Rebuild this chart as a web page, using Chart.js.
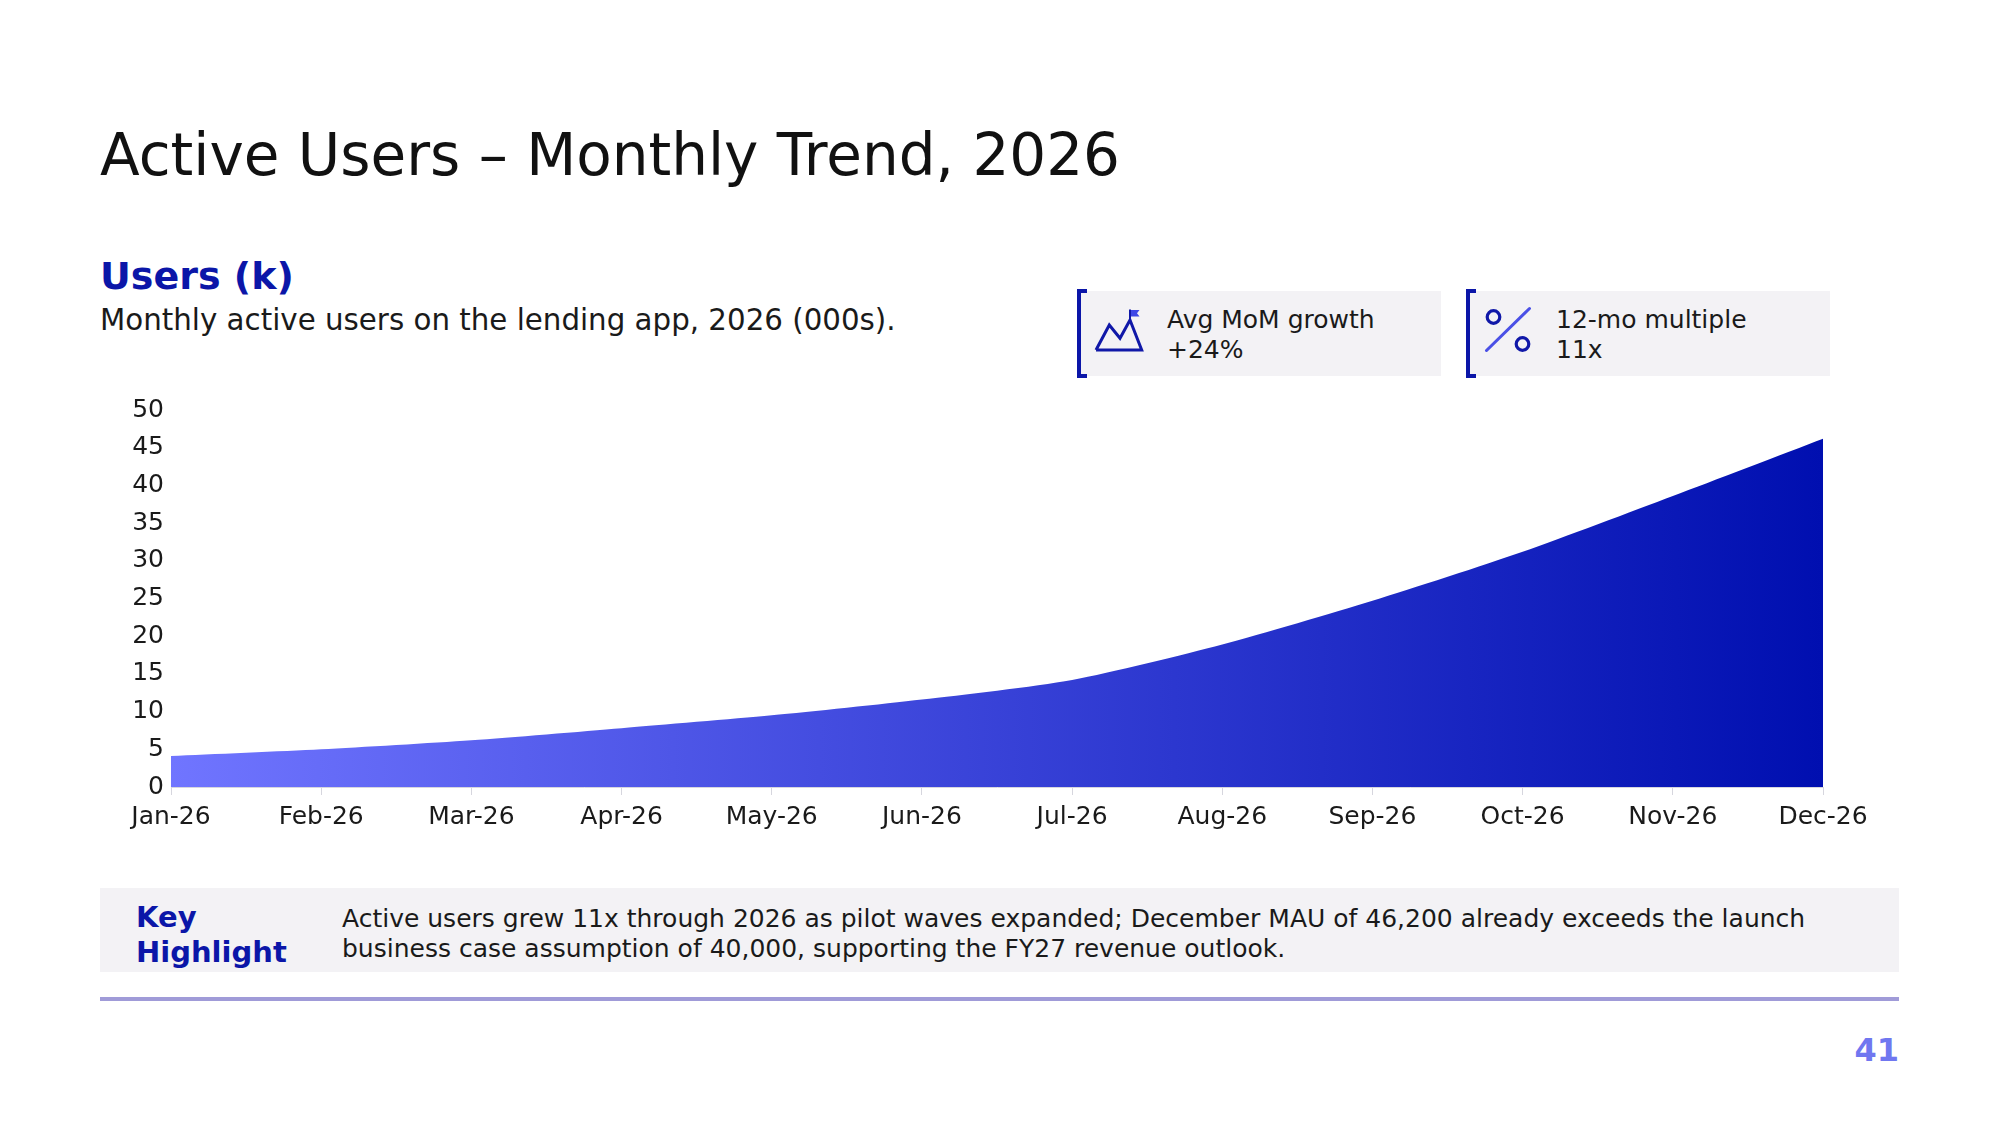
<!DOCTYPE html>
<html>
<head>
<meta charset="utf-8">
<script src="https://cdn.jsdelivr.net/npm/chart.js@4.4.1/dist/chart.umd.min.js"></script>
<style>
  html, body { margin: 0; padding: 0; background: #ffffff; }
  body { width: 2001px; height: 1125px; position: relative; overflow: hidden; font-family: "DejaVu Sans", sans-serif; color: #111; }
  .abs { position: absolute; white-space: nowrap; }
  #title { left: 100px; top: 121px; font-size: 58px; line-height: 1.2; color: #111; }
  #ctitle { left: 100px; top: 254px; font-size: 38px; line-height: 1.2; font-weight: bold; color: #0b16a8; }
  #sub { left: 100px; top: 303px; font-size: 29.3px; line-height: 1.2; color: #1a1a1a; }
  .kpi { position: absolute; top: 291px; height: 85px; width: 361px; background: #f3f2f5; }
  .brk { position: absolute; top: 289px; height: 89px; width: 10px; border: 4px solid #0b16a8; border-right: none; box-sizing: border-box; }
  .kpitext { position: absolute; top: 304.5px; font-size: 25px; line-height: 30px; color: #1a1a1a; white-space: nowrap; }
  #chartbox { position: absolute; left: 100px; top: 388px; width: 1775px; height: 451px; }
  #hl { position: absolute; left: 100px; top: 888px; width: 1799px; height: 84px; background: #f3f2f5; }
  #hlkey { left: 136px; top: 900px; font-size: 29px; line-height: 35px; font-weight: bold; color: #0b16a8; }
  #hltext { left: 342px; top: 904px; font-size: 25px; line-height: 30px; color: #1a1a1a; }
  #rule { position: absolute; left: 100px; top: 997px; width: 1799px; height: 4px; background: #a09bd8; }
  #pnum { right: 102px; top: 1031px; font-size: 32px; line-height: 1.2; font-weight: bold; color: #7077f0; }
</style>
</head>
<body>
<div id="title" class="abs">Active Users – Monthly Trend, 2026</div>
<div id="ctitle" class="abs">Users (k)</div>
<div id="sub" class="abs">Monthly active users on the lending app, 2026 (000s).</div>

<div class="kpi" style="left:1080px;"></div>
<div class="brk" style="left:1077px;"></div>
<svg class="abs" style="left:1090px; top:304px;" width="60" height="52" viewBox="1090 304 60 52">
  <polyline points="1096,350 1109.3,325 1120,338.3 1130,320 1141.7,350 1096,350" fill="none" stroke="#1018a8" stroke-width="3" stroke-linejoin="miter"/>
  <line x1="1130" y1="321" x2="1130" y2="309.5" stroke="#1018a8" stroke-width="2"/>
  <polygon points="1131,310 1139.5,310 1137,313.2 1139.5,316.5 1131,316.5" fill="#3d46e6"/>
</svg>
<div class="kpitext" style="left:1167px;">Avg MoM growth<br>+24%</div>

<div class="kpi" style="left:1469px;"></div>
<div class="brk" style="left:1466px;"></div>
<svg class="abs" style="left:1480px; top:300px;" width="60" height="60" viewBox="1480 300 60 60">
  <circle cx="1493.5" cy="317" r="6.3" fill="none" stroke="#1018a8" stroke-width="3.2"/>
  <circle cx="1522.5" cy="344" r="6.3" fill="none" stroke="#1018a8" stroke-width="3.2"/>
  <line x1="1486.5" y1="350.5" x2="1529.5" y2="308.5" stroke="#4a50e6" stroke-width="3" stroke-linecap="round"/>
</svg>
<div class="kpitext" style="left:1556px;">12-mo multiple<br>11x</div>

<div id="chartbox"><canvas id="c"></canvas></div>

<div id="hl"></div>
<div id="hlkey" class="abs">Key<br>Highlight</div>
<div id="hltext" class="abs">Active users grew 11x through 2026 as pilot waves expanded; December MAU of 46,200 already exceeds the launch<br>business case assumption of 40,000, supporting the FY27 revenue outlook.</div>
<div id="rule"></div>
<div id="pnum" class="abs">41</div>

<script>
const months = ["Jan-26","Feb-26","Mar-26","Apr-26","May-26","Jun-26","Jul-26","Aug-26","Sep-26","Oct-26","Nov-26","Dec-26"];
const activeUsersK = [4.1, 5.0, 6.2, 7.8, 9.5, 11.6, 14.2, 18.9, 24.7, 31.2, 38.6, 46.2];
const yTicks = [0, 5, 10, 15, 20, 25, 30, 35, 40, 45, 50];

const gradientFill = (ctx) => {
  const chart = ctx.chart;
  const a = chart.chartArea;
  if (!a) return '#3a40d8';
  const g = chart.ctx.createLinearGradient(a.left, 0, a.right, 0);
  g.addColorStop(0, '#7075ff');
  g.addColorStop(1, '#000fb0');
  return g;
};

new Chart(document.getElementById('c'), {
  type: 'line',
  data: {
    labels: months,
    datasets: [{
      label: 'Users (k)',
      data: activeUsersK,
      fill: 'origin',
      backgroundColor: gradientFill,
      borderWidth: 0,
      borderColor: 'rgba(0,0,0,0)',
      pointRadius: 0,
      tension: 0.25
    }]
  },
  options: {
    responsive: true,
    maintainAspectRatio: false,
    animation: false,
    devicePixelRatio: 1,
    layout: { padding: { top: 20, right: 52, bottom: 0, left: 0 } },
    plugins: { legend: { display: false }, tooltip: { enabled: false } },
    scales: {
      x: {
        offset: false,
        grid: { display: true, drawOnChartArea: false, drawTicks: true, tickLength: 8, color: '#d6d6de', lineWidth: 1 },
        border: { display: true, color: '#d6d6de', width: 1 },
        ticks: { color: '#1a1a1a', font: { family: 'DejaVu Sans', size: 25 }, padding: 7, maxRotation: 0, autoSkip: false }
      },
      y: {
        min: 0, max: 50,
        afterFit: (s) => { s.width = 71; },
        afterBuildTicks: (s) => { s.ticks = yTicks.map(v => ({ value: v })); },
        grid: { display: false, drawTicks: false },
        border: { display: false },
        ticks: { color: '#1a1a1a', font: { family: 'DejaVu Sans', size: 25 }, padding: 7 }
      }
    }
  }
});
</script>
</body>
</html>
